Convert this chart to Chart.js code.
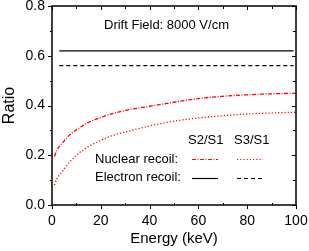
<!DOCTYPE html>
<html><head><meta charset="utf-8">
<script src="https://cdn.jsdelivr.net/npm/chart.js@4"></script>
<style>html,body{margin:0;padding:0;background:#fff}#wrap{width:309px;height:251px}</style>
</head><body><div id="wrap"><canvas id="c" width="309" height="251"></canvas></div>
<script>
const energyNR = [1,2,3,5,7,10,15,20,25,30,40,50,60,70,80,90,100];
const nrS2S1 = [0.195,0.22,0.235,0.258,0.28,0.302,0.332,0.352,0.368,0.38,0.397,0.413,0.428,0.437,0.443,0.447,0.449];
const nrS3S1 = [0.08,0.105,0.12,0.145,0.17,0.2,0.235,0.26,0.28,0.293,0.318,0.337,0.35,0.359,0.366,0.37,0.373];
const energyER = [3,99];
const erS2S1 = [0.62,0.62];
const erS3S1 = [0.56,0.56];
const xTicks = [0,20,40,60,80,100];
const yTicks = [0.0,0.2,0.4,0.6,0.8];

const FONT = '"Liberation Sans", Arial, Helvetica, sans-serif';
const toPts = (xs, ys) => xs.map((x,i)=>({x:x,y:ys[i]}));

const decor = {
  id:'decor',
  afterDraw(chart){
    const ctx = chart.ctx, a = chart.chartArea;
    const xs = chart.scales.x, ys = chart.scales.y;
    ctx.save();
    ctx.strokeStyle = '#000'; ctx.lineWidth = 1.5;
    ctx.strokeRect(a.left, a.top, a.right-a.left, a.bottom-a.top);
    ctx.lineWidth = 1;
    ctx.beginPath();
    for (let v=0; v<=100; v+=10){
      const p = Math.round(xs.getPixelForValue(v))+0.5;
      const major = v%20===0;
      if (major){ ctx.moveTo(p,a.bottom); ctx.lineTo(p,a.bottom+4); }
      else { ctx.moveTo(p,a.bottom); ctx.lineTo(p,a.bottom-2); }
      ctx.moveTo(p,a.top); ctx.lineTo(p,a.top+(major?4:3));
    }
    for (let k=0; k<=8; k++){
      const v = k/10;
      const p = Math.round(ys.getPixelForValue(v))+0.5;
      const major = k%2===0;
      ctx.moveTo(a.left,p); ctx.lineTo(a.left-(major?4:2),p);
      ctx.moveTo(a.right,p); ctx.lineTo(a.right-(major?4:3),p);
    }
    ctx.stroke();

    ctx.fillStyle = '#000';
    ctx.textBaseline = 'middle';
    ctx.font = '13px ' + FONT;
    ctx.textAlign = 'left';
    ctx.fillText('Drift Field: 8000 V/cm', 104, 25);

    ctx.font = '13px ' + FONT;
    ctx.fillText('S2/S1', 188, 140);
    ctx.fillText('S3/S1', 234, 140);
    ctx.fillText('Nuclear recoil:', 95, 159);
    ctx.fillText('Electron recoil:', 95, 177);

    const samples = [
      {x:192, y:159, c:'#ff0000', d:[4,1.5,1,1.5]},
      {x:237, y:159, c:'#ff0000', d:[1.2,2]},
      {x:192, y:178, c:'#000', d:[]},
      {x:237, y:178, c:'#000', d:[4,3]}
    ];
    samples.forEach(s=>{
      ctx.beginPath(); ctx.setLineDash(s.d); ctx.strokeStyle=s.c; ctx.lineWidth=1.2;
      ctx.moveTo(s.x, s.y+0.5); ctx.lineTo(s.x+26, s.y+0.5); ctx.stroke();
    });
    ctx.restore();
  }
};

new Chart(document.getElementById('c'), {
  type:'scatter',
  data:{datasets:[
    {data:toPts(energyER, erS2S1), showLine:true, borderColor:'#000', borderWidth:1.2, pointRadius:0, borderDash:[]},
    {data:toPts(energyER, erS3S1), showLine:true, borderColor:'#000', borderWidth:1.2, pointRadius:0, borderDash:[4,3]},
    {data:toPts(energyNR, nrS2S1), showLine:true, borderColor:'#ff0000', borderWidth:1.3, pointRadius:0, borderDash:[4,1.5,1,1.5], cubicInterpolationMode:'monotone'},
    {data:toPts(energyNR, nrS3S1), showLine:true, borderColor:'#ff0000', borderWidth:1.3, pointRadius:0, borderDash:[1.2,2], cubicInterpolationMode:'monotone'}
  ]},
  options:{
    responsive:false, animation:false, devicePixelRatio:1,
    layout:{padding:0},
    plugins:{legend:{display:false}, tooltip:{enabled:false}},
    scales:{
      x:{type:'linear', min:0, max:100,
        afterFit(s){ s.height = 46; s.paddingRight = 13; },
        afterBuildTicks(s){ s.ticks = xTicks.map(v=>({value:v})); },
        grid:{display:false, drawTicks:false}, border:{display:false},
        ticks:{color:'#000', font:{family:FONT,size:14}, padding:8, maxRotation:0, autoSkip:false},
        title:{display:true, text:'Energy (keV)', color:'#000', font:{family:FONT,size:15}, padding:{top:1,bottom:3}}
      },
      y:{type:'linear', min:0, max:0.8,
        afterFit(s){ s.width = 52; s.paddingTop = 6; s.paddingBottom = 0; },
        afterBuildTicks(s){ s.ticks = yTicks.map(v=>({value:v})); },
        grid:{display:false, drawTicks:false}, border:{display:false},
        ticks:{color:'#000', font:{family:FONT,size:14}, padding:7, callback:v=>Number(v).toFixed(1)},
        title:{display:true, text:'Ratio', color:'#000', font:{family:FONT,size:16}, padding:{top:0,bottom:1}}
      }
    }
  },
  plugins:[decor]
});
</script></body></html>
